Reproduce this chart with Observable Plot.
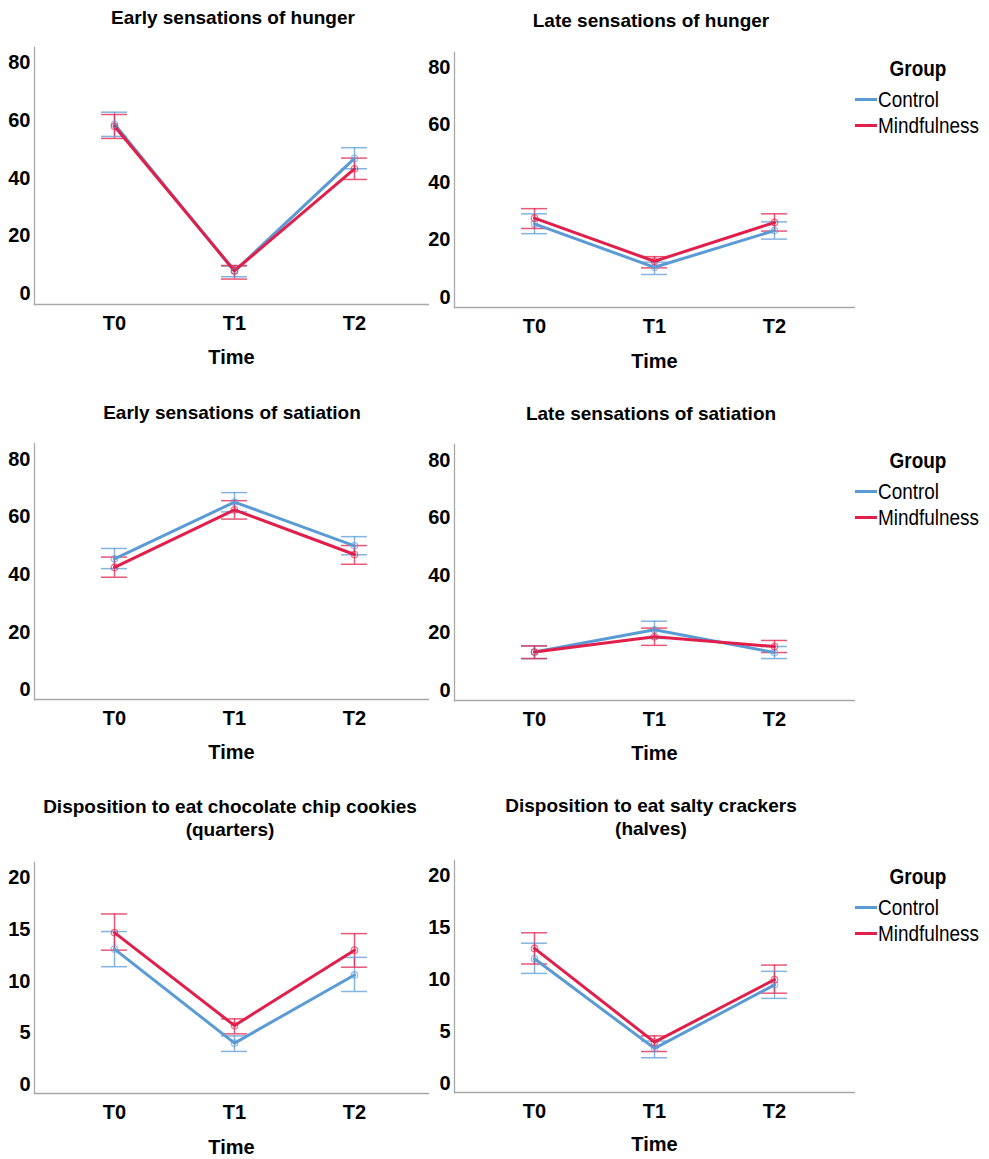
<!DOCTYPE html>
<html>
<head>
<meta charset="utf-8">
<script src="https://cdn.jsdelivr.net/npm/d3@7"></script>
<script src="https://cdn.jsdelivr.net/npm/@observablehq/plot@0.6"></script>
<style>
  body { margin: 0; background: #fff; font-family: "Liberation Sans", Arial, sans-serif; }
  #root { position: relative; width: 989px; height: 1159px; overflow: hidden; background: #fff; }
  .title { position: absolute; font-weight: bold; font-size: 19px; line-height: 23px; text-align: center; color: #000; white-space: nowrap; }
  .lg-title { position: absolute; font-weight: bold; font-size: 22px; line-height: 24px; text-align: center; color: #000; transform: scaleX(0.86); transform-origin: center center; }
  .lg-label { position: absolute; font-size: 22px; line-height: 24px; color: #000; white-space: nowrap; transform: scaleX(0.86); transform-origin: left center; }
  .lg-swatch { position: absolute; height: 3px; width: 22px; }
  svg.plot { position: absolute; background: none !important; }
</style>
</head>
<body>
<div id="root"></div>
<script>
// ---------- data ----------
const times = ["T0", "T1", "T2"];
const groups = ["Control", "Mindfulness"];
const groupColors = ["#5b9bd5", "#e11f4b"];
const legendTitle = "Group";
const xLabel = "Time";
const ticks80 = [0, 20, 40, 60, 80];
const ticks20 = [0, 5, 10, 15, 20];

const titles = [
  ["Early sensations of hunger"],
  ["Late sensations of hunger"],
  ["Early sensations of satiation"],
  ["Late sensations of satiation"],
  ["Disposition to eat chocolate chip cookies", "(quarters)"],
  ["Disposition to eat salty crackers", "(halves)"]
];

// Early sensations of hunger
const earlyHungerControlMean = [58.7, 7.8, 46.9];
const earlyHungerControlLo   = [54.5, 5.9, 43.3];
const earlyHungerControlHi   = [62.9, 9.6, 50.6];
const earlyHungerMindMean    = [58.0, 8.0, 43.3];
const earlyHungerMindLo      = [53.8, 5.1, 39.6];
const earlyHungerMindHi      = [62.1, 9.8, 47.0];

// Late sensations of hunger
const lateHungerControlMean = [25.5, 10.4, 23.2];
const lateHungerControlLo   = [22.1, 7.9, 20.2];
const lateHungerControlHi   = [29.0, 12.2, 26.2];
const lateHungerMindMean    = [27.5, 12.5, 26.0];
const lateHungerMindLo      = [23.9, 10.2, 23.0];
const lateHungerMindHi      = [30.8, 14.1, 29.0];

// Early sensations of satiation
const earlySatControlMean = [45.5, 65.2, 50.0];
const earlySatControlLo   = [42.1, 61.8, 46.9];
const earlySatControlHi   = [49.1, 68.5, 53.2];
const earlySatMindMean    = [42.5, 62.5, 47.0];
const earlySatMindLo      = [39.1, 59.3, 43.6];
const earlySatMindHi      = [46.1, 65.7, 50.1];

// Late sensations of satiation
const lateSatControlMean = [13.4, 21.1, 13.2];
const lateSatControlLo   = [11.1, 18.1, 11.1];
const lateSatControlHi   = [15.5, 24.1, 15.3];
const lateSatMindMean    = [13.4, 18.7, 15.3];
const lateSatMindLo      = [11.1, 15.7, 13.2];
const lateSatMindHi      = [15.5, 21.7, 17.4];

// Disposition to eat chocolate chip cookies
const cookiesControlMean = [13.1, 4.0, 10.6];
const cookiesControlLo   = [11.4, 3.2, 9.0];
const cookiesControlHi   = [14.8, 4.7, 12.3];
const cookiesMindMean    = [14.7, 5.7, 13.0];
const cookiesMindLo      = [13.0, 4.9, 11.35];
const cookiesMindHi      = [16.5, 6.35, 14.6];

// Disposition to eat salty crackers
const crackersControlMean = [12.0, 3.4, 9.5];
const crackersControlLo   = [10.6, 2.5, 8.2];
const crackersControlHi   = [13.5, 4.1, 10.8];
const crackersMindMean    = [13.0, 4.0, 10.0];
const crackersMindLo      = [11.5, 3.1, 8.7];
const crackersMindHi      = [14.5, 4.6, 11.4];

function rowsOf(cm, cl, ch, mm, ml, mh) {
  const out = [];
  [[cm, cl, ch], [mm, ml, mh]].forEach(([m, l, h], g) => {
    times.forEach((t, i) => out.push({ time: t, group: groups[g], mean: m[i], lo: l[i], hi: h[i] }));
  });
  return out;
}

const panelData = [
  rowsOf(earlyHungerControlMean, earlyHungerControlLo, earlyHungerControlHi, earlyHungerMindMean, earlyHungerMindLo, earlyHungerMindHi),
  rowsOf(lateHungerControlMean, lateHungerControlLo, lateHungerControlHi, lateHungerMindMean, lateHungerMindLo, lateHungerMindHi),
  rowsOf(earlySatControlMean, earlySatControlLo, earlySatControlHi, earlySatMindMean, earlySatMindLo, earlySatMindHi),
  rowsOf(lateSatControlMean, lateSatControlLo, lateSatControlHi, lateSatMindMean, lateSatMindLo, lateSatMindHi),
  rowsOf(cookiesControlMean, cookiesControlLo, cookiesControlHi, cookiesMindMean, cookiesMindLo, cookiesMindHi),
  rowsOf(crackersControlMean, crackersControlLo, crackersControlHi, crackersMindMean, crackersMindLo, crackersMindHi)
];
const panelTicks = [ticks80, ticks80, ticks80, ticks80, ticks20, ticks20];

// ---------- layout (page pixels) ----------
const layout = [
  { col: 0, fL: 34,  fR: 428, fT: 47,  fB: 304,  yZero: 293.3, yTop: 62.3,  t0: 114, t2: 354, tLab: 322,  timeY: 357,  titleX: 233, titleY: 17 },
  { col: 1, fL: 454, fR: 854, fT: 52,  fB: 307,  yZero: 296.7, yTop: 66.7,  t0: 533, t2: 774, tLab: 325,  timeY: 361,  titleX: 651, titleY: 20 },
  { col: 0, fL: 34,  fR: 428, fT: 443, fB: 699,  yZero: 689.3, yTop: 459,   t0: 114, t2: 354, tLab: 717,  timeY: 752,  titleX: 232, titleY: 412 },
  { col: 1, fL: 454, fR: 854, fT: 444, fB: 700,  yZero: 690,   yTop: 460,   t0: 533, t2: 774, tLab: 718,  timeY: 753,  titleX: 651, titleY: 413 },
  { col: 0, fL: 34,  fR: 428, fT: 862, fB: 1093, yZero: 1084,  yTop: 877.3, t0: 114, t2: 354, tLab: 1111, timeY: 1147, titleX: 230, titleY: 806 },
  { col: 1, fL: 454, fR: 854, fT: 860, fB: 1092, yZero: 1083.3, yTop: 875,  t0: 533, t2: 774, tLab: 1110, timeY: 1144, titleX: 651, titleY: 805 }
];

const root = document.getElementById("root");
const FONT = '"Liberation Sans", Arial, sans-serif';

layout.forEach((L, p) => {
  const rows = panelData[p];
  const tickVals = panelTicks[p];
  const svgLeft = L.col === 0 ? 0 : 428;
  const width = L.col === 0 ? 440 : 432;
  const svgTop = L.fT - 20;
  const height = (L.timeY + 22) - svgTop;
  const ml = L.fL - svgLeft;
  const mr = svgLeft + width - L.fR;
  const mt = L.fT - svgTop;
  const mb = svgTop + height - L.fB;

  const chart = Plot.plot({
    width, height,
    marginLeft: ml, marginRight: mr, marginTop: mt, marginBottom: mb,
    style: { fontFamily: FONT, fontSize: "19px", color: "#000", background: "none" },
    x: { type: "point", domain: times, padding: 0, range: [L.t0 - svgLeft, L.t2 - svgLeft], axis: null },
    y: { domain: [0, tickVals[tickVals.length - 1]], range: [L.yZero - svgTop, L.yTop - svgTop], axis: null },
    color: { domain: groups, range: groupColors },
    marks: [
      Plot.frame({ anchor: "left", stroke: "#a9a9a9", strokeWidth: 1.3 }),
      Plot.frame({ anchor: "bottom", stroke: "#a9a9a9", strokeWidth: 1.3 }),
      Plot.axisY({ ticks: tickVals, tickSize: 0, tickPadding: 4, label: null, fontSize: 20, fontWeight: "bold", fill: "#000", tickFormat: d => String(d) }),
      Plot.axisX({ tickSize: 0, tickPadding: L.tLab - L.fB - 7, label: null, fontSize: 20, fontWeight: "bold", fill: "#000" }),
      Plot.text([xLabel], { frameAnchor: "bottom", dy: L.timeY - L.fB + 6, text: d => d, fontSize: 20, fontWeight: "bold", fill: "#000" }),
      Plot.ruleX(rows, { x: "time", y1: "lo", y2: "hi", stroke: "group", strokeWidth: 1.5, strokeOpacity: 0.75 }),
      Plot.ruleY(rows, { x1: "time", x2: "time", y: "lo", stroke: "group", strokeWidth: 1.5, strokeOpacity: 0.75, insetLeft: -13, insetRight: -13 }),
      Plot.ruleY(rows, { x1: "time", x2: "time", y: "hi", stroke: "group", strokeWidth: 1.5, strokeOpacity: 0.75, insetLeft: -13, insetRight: -13 }),
      Plot.line(rows, { x: "time", y: "mean", z: "group", stroke: "group", strokeWidth: 3 }),
      Plot.dot(rows, { x: "time", y: "mean", stroke: "group", r: 3.2, strokeWidth: 1.3, strokeOpacity: 0.6, fill: "none" })
    ]
  });
  chart.style.position = "absolute";
  chart.style.left = svgLeft + "px";
  chart.style.top = svgTop + "px";
  chart.style.background = "none";
  chart.style.maxWidth = "none";
  root.appendChild(chart);

  // title
  const lines = titles[p];
  const tdiv = document.createElement("div");
  tdiv.className = "title";
  tdiv.style.left = (L.titleX - 230) + "px";
  tdiv.style.width = "460px";
  tdiv.style.top = (L.titleY - 11.5) + "px";
  tdiv.innerHTML = lines.map(s => `<div>${s}</div>`).join("");
  root.appendChild(tdiv);

  // legend on right-hand panels
  if (L.col === 1) {
    const gy = L.fT + 17;
    const lt = document.createElement("div");
    lt.className = "lg-title";
    lt.style.left = "868px";
    lt.style.width = "100px";
    lt.style.top = (gy - 12) + "px";
    lt.textContent = legendTitle;
    root.appendChild(lt);
    groups.forEach((g, i) => {
      const cy = L.fT + 47 + i * 26;
      const sw = document.createElement("div");
      sw.className = "lg-swatch";
      sw.style.left = "855px";
      sw.style.top = (cy - 1.5) + "px";
      sw.style.background = groupColors[i];
      root.appendChild(sw);
      const lb = document.createElement("div");
      lb.className = "lg-label";
      lb.style.left = "878px";
      lb.style.top = (cy - 11) + "px";
      lb.textContent = g;
      root.appendChild(lb);
    });
  }
});
</script>
</body>
</html>
